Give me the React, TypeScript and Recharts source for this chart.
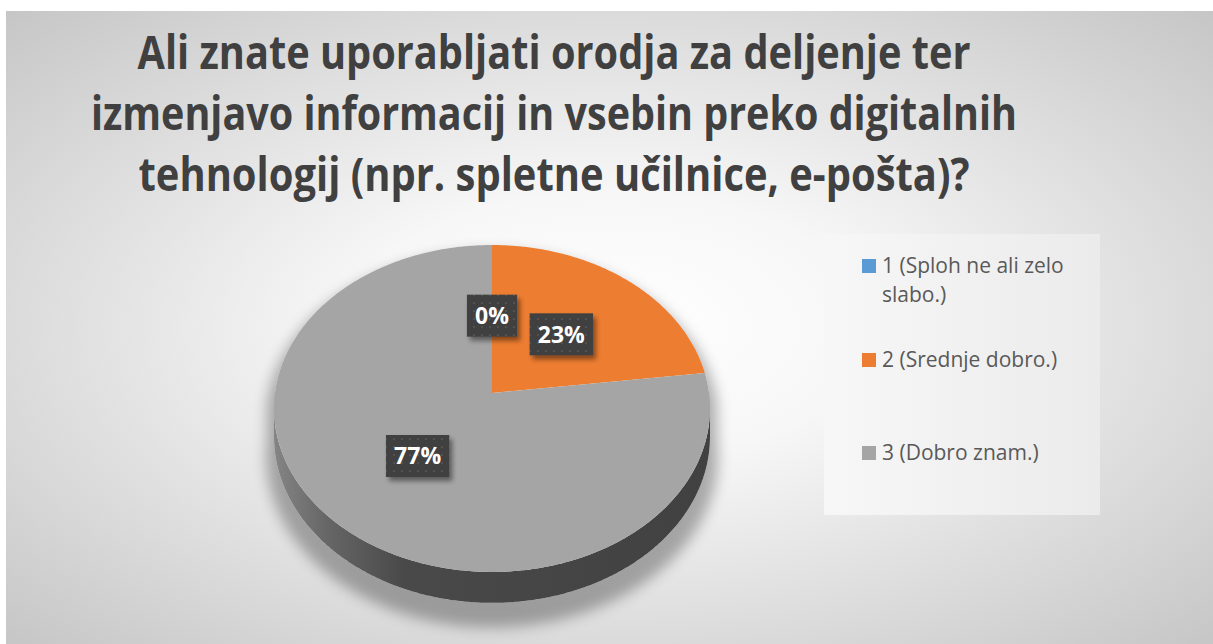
import React from 'react';
import { PieChart, Pie, Cell, Legend } from 'recharts';

// ---- data ----
const categories = ['1 (Sploh ne ali zelo slabo.)', '2 (Srednje dobro.)', '3 (Dobro znam.)'];
const values = [0, 23, 77];
const colors = ['#5B9BD5', '#ED7D31', '#A5A5A5'];
const titleLines = [
  'Ali znate uporabljati orodja za deljenje ter',
  'izmenjavo informacij in vsebin preko digitalnih',
  'tehnologij (npr. spletne učilnice, e-pošta)?',
];

const data = categories.map((name, i) => ({ name, value: values[i] }));

// ---- layout ----
const W = 1207;
const H = 633;
const CX = 486;
const CY = 382;
const RX = 217;
const RY = 162;
const PERSP = 0.0947;
const DEPTH = 28;
const TITLE_X = 548;
const TITLE_Y = [58, 119, 180];
const TITLE_W = [833, 926, 831];

function proj(cx: number, cy: number, r: number, aDeg: number, f = 1) {
  const a = (aDeg * Math.PI) / 180;
  const u = f * Math.cos(a);
  const v = f * Math.sin(a);
  const w = 1 + PERSP * v;
  const k = RY / RX;
  return { x: cx + (r * u) / w, y: cy - (r * k * v) / w, w, v };
}

function shade(hex: string, f: number) {
  const n = parseInt(hex.slice(1), 16);
  const r = Math.round(((n >> 16) & 255) * f);
  const g = Math.round(((n >> 8) & 255) * f);
  const b = Math.round((n & 255) * f);
  return `rgb(${r},${g},${b})`;
}

const fmt = (n: number) => n.toFixed(2);

function silhouette(cx: number, cy: number, r: number, extraDepth: number) {
  const pts: string[] = [];
  for (let i = 0; i <= 720; i++) {
    const a = i / 2;
    const p = proj(cx, cy, r, a);
    const y = p.y + (p.v < 0 ? DEPTH / p.w + extraDepth : 0);
    pts.push(`${fmt(p.x)},${fmt(y)}`);
  }
  return `M${pts.join(' L')} Z`;
}

function renderSlice(props: any) {
  const { cx, cy, outerRadius, startAngle, endAngle, fill, index } = props;
  const hi = Math.max(startAngle, endAngle);
  const lo = Math.min(startAngle, endAngle);
  const n = Math.max(1, Math.ceil((hi - lo) * 2));
  const pts: string[] = [];
  for (let i = 0; i <= n; i++) {
    const a = hi - ((hi - lo) * i) / n;
    const p = proj(cx, cy, outerRadius, a);
    pts.push(`L${fmt(p.x)},${fmt(p.y)}`);
  }
  const top = `M${fmt(cx)},${fmt(cy)} ${pts.join(' ')} Z`;

  const asinP = (Math.asin(PERSP) * 180) / Math.PI;
  const sides: string[] = [];
  for (let k = -2; k <= 1; k++) {
    const fLo = 180 + asinP + 360 * k;
    const fHi = 360 - asinP + 360 * k;
    const a1 = Math.min(hi, fHi);
    const a0 = Math.max(lo, fLo);
    if (a1 > a0) {
      const m = Math.max(1, Math.ceil((a1 - a0) * 2));
      const topPts: string[] = [];
      const botPts: string[] = [];
      for (let i = 0; i <= m; i++) {
        const a = a1 - ((a1 - a0) * i) / m;
        const p = proj(cx, cy, outerRadius, a);
        topPts.push(`${fmt(p.x)},${fmt(p.y)}`);
        botPts.push(`${fmt(p.x)},${fmt(p.y + DEPTH / p.w)}`);
      }
      sides.push(`M${topPts.join(' L')} L${botPts.reverse().join(' L')} Z`);
    }
  }
  const gid = `side-grad-${index}`;
  const base = colors[index] || fill;
  const drawShadow = index === values.length - 1;
  return (
    <g>
      <defs>
        <linearGradient id={gid} gradientUnits="userSpaceOnUse" x1={cx - outerRadius} y1={0} x2={cx + outerRadius} y2={0}>
          <stop offset="0" stopColor={shade(base, 0.8)} />
          <stop offset="0.12" stopColor={shade(base, 0.62)} />
          <stop offset="0.3" stopColor={shade(base, 0.44)} />
          <stop offset="1" stopColor={shade(base, 0.395)} />
        </linearGradient>
        {drawShadow && (
          <>
            <filter id="pie-shadow-blur" x="-30%" y="-30%" width="160%" height="160%">
              <feGaussianBlur stdDeviation="7" />
            </filter>
            <mask id="pie-shadow-mask" maskUnits="userSpaceOnUse" x={0} y={0} width={W} height={H}>
              <rect x={0} y={0} width={W} height={H} fill="#fff" />
              <path d={silhouette(cx, cy, outerRadius, 0)} fill="#000" />
            </mask>
          </>
        )}
      </defs>
      {drawShadow && (
        <g mask="url(#pie-shadow-mask)">
          <path
            d={silhouette(cx, cy + 12, outerRadius + 8, 6)}
            fill="#000"
            fillOpacity={0.3}
            filter="url(#pie-shadow-blur)"
          />
        </g>
      )}
      {sides.map((d, i) => (
        <path key={i} d={d} fill={`url(#${gid})`} stroke="none" />
      ))}
      <path d={top} fill={base} stroke="none" />
    </g>
  );
}

function renderLabel(props: any) {
  const { cx, cy, midAngle, outerRadius, percent, index } = props;
  const p = proj(cx, cy, outerRadius, midAngle, 0.5);
  const text = `${Math.round(percent * 100)}%`;
  const fs = 23;
  const tw = text.split('').reduce((s, c) => s + (c === '%' ? 0.87 : 0.572) * fs, 0);
  const bw = tw + 17;
  const bh = 42;
  return (
    <g key={`lbl-${index}`}>
      <defs>
        <pattern id={`dots-${index}`} width="8" height="8" patternUnits="userSpaceOnUse">
          <rect width="8" height="8" fill="#404040" />
          <circle cx="4" cy="4" r="1.1" fill="#555555" />
        </pattern>
        <filter id={`lblsh-${index}`} x="-30%" y="-30%" width="170%" height="180%">
          <feDropShadow dx="3" dy="4" stdDeviation="2.5" floodColor="#000" floodOpacity="0.45" />
        </filter>
      </defs>
      <rect
        x={p.x - bw / 2}
        y={p.y - bh / 2}
        width={bw}
        height={bh}
        fill={`url(#dots-${index})`}
        filter={`url(#lblsh-${index})`}
      />
      <text
        x={p.x}
        y={p.y + 8.5}
        textAnchor="middle"
        fill="#ffffff"
        fontFamily="'Open Sans', sans-serif"
        fontWeight={700}
        fontSize={fs}
      >
        {text}
      </text>
    </g>
  );
}

function renderLegend(props: any) {
  const payload = props.payload || [];
  return (
    <div
      style={{
        width: 276,
        height: 281,
        boxSizing: 'border-box',
        paddingTop: 17,
        background: 'linear-gradient(90deg, #f7f7f7, #ebebeb)',
        fontFamily: "'Open Sans', sans-serif",
        fontSize: 21,
        color: '#595959',
        textAlign: 'left',
      }}
    >
      {payload.map((entry: any, i: number) => (
        <div
          key={i}
          style={{
            position: 'relative',
            height: 93.5,
            width: 268,
            boxSizing: 'border-box',
            paddingLeft: 58,
            lineHeight: '29px',
          }}
        >
          <span
            style={{
              position: 'absolute',
              left: 38,
              top: 8,
              width: 14,
              height: 14,
              background: colors[i] || entry.color,
            }}
          />
          {entry.value}
        </div>
      ))}
    </div>
  );
}

export default function App() {
  return (
    <div>
      <style>{`html,body{margin:0;padding:0;overflow:hidden;background:#fff;}`}</style>
      <div
        style={{
          position: 'absolute',
          left: 6,
          top: 11,
          width: W,
          height: H,
          background:
            'radial-gradient(ellipse farthest-corner at 50% 50%, #ffffff 0%, #f7f7f7 30%, #c6c6c6 100%)',
        }}
      >
        <PieChart width={W} height={H} margin={{ top: 0, right: 0, bottom: 0, left: 0 }}>
          <Pie
            data={data}
            dataKey="value"
            nameKey="name"
            cx={CX}
            cy={CY}
            outerRadius={RX}
            startAngle={90}
            endAngle={-270}
            stroke="none"
            isAnimationActive={false}
            labelLine={false}
            label={renderLabel}
            shape={renderSlice}
          >
            {data.map((d, i) => (
              <Cell key={d.name} fill={colors[i]} />
            ))}
          </Pie>
          <Legend
            layout="vertical"
            align="right"
            verticalAlign="middle"
            content={renderLegend}
            wrapperStyle={{ left: 818, top: 223, width: 276, height: 281 }}
          />
        </PieChart>
        <svg
          width={W}
          height={240}
          style={{ position: 'absolute', left: 0, top: 0, pointerEvents: 'none' }}
        >
          {titleLines.map((line, i) => (
            <text
              key={i}
              x={TITLE_X}
              y={TITLE_Y[i]}
              textAnchor="middle"
              textLength={TITLE_W[i]}
              lengthAdjust="spacingAndGlyphs"
              fontFamily="'Open Sans', sans-serif"
              fontWeight={700}
              fontSize={46}
              fill="#404040"
            >
              {line}
            </text>
          ))}
        </svg>
      </div>
    </div>
  );
}
